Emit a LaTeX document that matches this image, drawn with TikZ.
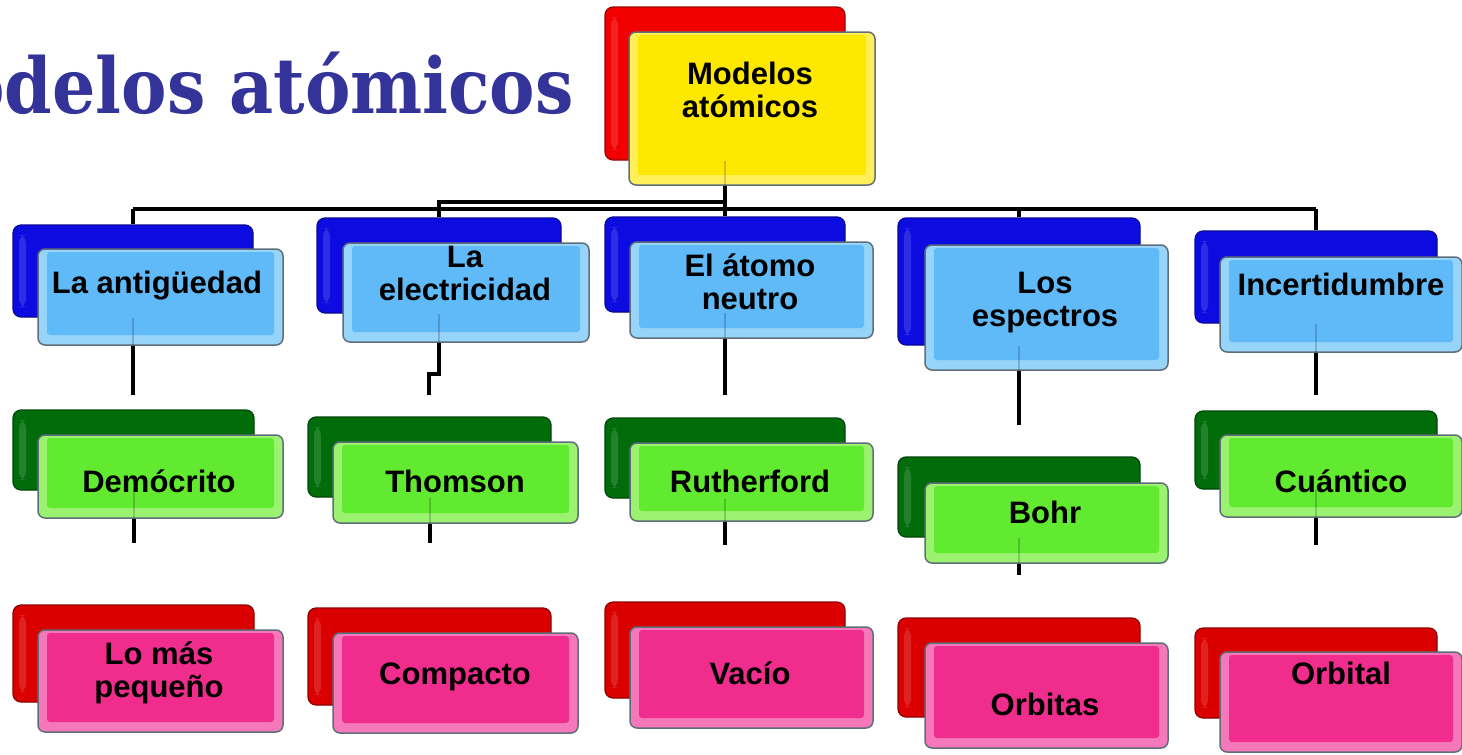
\documentclass[tikz,border=0pt]{standalone}
\usepackage{fontspec}
\newfontfamily\boxfont{Liberation Sans}
\newfontfamily\titlefont{DejaVu Serif}
\definecolor{titleblue}{RGB}{51,51,153}
\definecolor{bbase}{RGB}{96,186,248}
\definecolor{brim}{RGB}{150,212,250}
\definecolor{bback}{RGB}{12,12,225}
\definecolor{gbase}{RGB}{98,234,48}
\definecolor{grim}{RGB}{155,242,112}
\definecolor{gback}{RGB}{0,108,10}
\definecolor{pbase}{RGB}{240,45,140}
\definecolor{prim}{RGB}{245,120,186}
\definecolor{pback}{RGB}{218,0,0}
\definecolor{ybase}{RGB}{255,232,0}
\definecolor{yrim}{RGB}{255,240,90}
\definecolor{yback}{RGB}{242,0,0}
\definecolor{edge}{RGB}{95,110,120}
\tikzset{
  conn/.style={line width=4pt, black},
  faint/.style={line width=2pt, black, opacity=0.18},
  backbox/.style={rectangle, rounded corners=8pt, line width=1.2pt, inner sep=0pt},
  frontbox/.style={rectangle, rounded corners=7pt, draw=edge, line width=1.5pt, inner sep=0pt},
  lbl/.style={font=\boxfont\bfseries\fontsize{31}{33}\selectfont, align=center, inner sep=0pt, text=black},
}
% back box: name, colour, x1, y1, x2, y2
\newcommand\bk[6]{%
  \node[backbox, fill=#2, draw=#2!65!black, minimum width={#5-#3}, minimum height={#6-#4},
    path picture={\fill[#2!60!white, opacity=0.35] ([xshift=6pt,yshift=-10pt]path picture bounding box.north west) rectangle ([xshift=13pt,yshift=10pt]path picture bounding box.south west);}]
    (#1) at ({(#3+#5)/2},{(#4+#6)/2}) {};}
% front box: name, base, rim, x1, y1, x2, y2
\newcommand\fr[7]{%
  \node[frontbox, fill=#3, minimum width={#6-#4}, minimum height={#7-#5},
    path picture={\fill[#2, rounded corners=3pt] ([xshift=9pt,yshift=-3pt]path picture bounding box.north west) rectangle ([xshift=-9pt,yshift=10pt]path picture bounding box.south east);}]
    (#1) at ({(#4+#6)/2},{(#5+#7)/2}) {};}
\begin{document}
\begin{tikzpicture}[x=1pt, y=-1pt]
\useasboundingbox (0,0) rectangle (1462,755);
\clip (0,0) rectangle (1462,755);
\fill[white] (0,0) rectangle (1462,755);

% title (cut off at the left edge, as in the reference)
\node[anchor=base east, inner sep=0pt, text=titleblue, font=\titlefont\bfseries\fontsize{77}{80}\selectfont] (title) at (574,113) {\scalebox{0.885}[1]{Modelos atómicos}};

% back boxes
\bk{rb}{yback}{605}{7}{845}{160}
\bk{a1}{bback}{13}{225}{253}{317}
\bk{a2}{bback}{317}{218}{561}{313}
\bk{a3}{bback}{605}{217}{845}{312}
\bk{a4}{bback}{898}{218}{1140}{345}
\bk{a5}{bback}{1195}{231}{1437}{323}
\bk{b1}{gback}{13}{410}{254}{490}
\bk{b2}{gback}{308}{417}{551}{497}
\bk{b3}{gback}{605}{418}{845}{498}
\bk{b4}{gback}{898}{457}{1140}{537}
\bk{b5}{gback}{1195}{411}{1437}{489}
\bk{c1}{pback}{13}{605}{254}{702}
\bk{c2}{pback}{308}{608}{551}{705}
\bk{c3}{pback}{605}{602}{845}{698}
\bk{c4}{pback}{898}{618}{1140}{717}
\bk{c5}{pback}{1195}{628}{1437}{718}

% connectors
\coordinate (bus) at (0,209);
\coordinate (bus2) at (0,202);
\draw[conn] (rb.south) -- (rb.south |- bus);
\draw[conn] (a1.north |- bus) -- (a5.north |- bus);
\draw[conn] (rb.south |- bus2) -| (a2.north);
\foreach \n in {a1,a3,a4,a5} \draw[conn] (\n.north |- bus) -- (\n.north);
\coordinate (e1) at (a1.south |- 0,395);
\coordinate (j2) at (429,374);
\coordinate (e2) at (429,395);
\coordinate (e3) at (a3.south |- 0,395);
\coordinate (e4) at (a4.south |- 0,425);
\coordinate (e5) at (a5.south |- 0,395);
\draw[conn] (a1.south) -- (e1);
\draw[conn, line join=miter] (a2.south) |- (j2) -- (e2);
\draw[conn] (a3.south) -- (e3);
\draw[conn] (a4.south) -- (e4);
\draw[conn] (a5.south) -- (e5);
\coordinate (f1) at (b1.south |- 0,543);
\coordinate (f2) at (b2.south |- 0,543);
\coordinate (f3) at (b3.south |- 0,545);
\coordinate (f4) at (b4.south |- 0,575);
\coordinate (f5) at (b5.south |- 0,545);
\foreach \n/\e in {b1/f1,b2/f2,b3/f3,b4/f4,b5/f5} \draw[conn] (\n.south) -- (\e);

% front boxes
\fr{rf}{ybase}{yrim}{629}{32}{875}{185}
\fr{A1}{bbase}{brim}{38}{249}{283}{345}
\fr{A2}{bbase}{brim}{343}{243}{589}{342}
\fr{A3}{bbase}{brim}{630}{242}{873}{338}
\fr{A4}{bbase}{brim}{925}{245}{1168}{370}
\fr{A5}{bbase}{brim}{1220}{257}{1462}{352}
\fr{B1}{gbase}{grim}{38}{435}{283}{518}
\fr{B2}{gbase}{grim}{333}{442}{578}{523}
\fr{B3}{gbase}{grim}{630}{443}{873}{521}
\fr{B4}{gbase}{grim}{925}{483}{1168}{563}
\fr{B5}{gbase}{grim}{1220}{435}{1462}{517}
\fr{C1}{pbase}{prim}{38}{630}{283}{732}
\fr{C2}{pbase}{prim}{333}{633}{578}{733}
\fr{C3}{pbase}{prim}{630}{627}{873}{728}
\fr{C4}{pbase}{prim}{925}{643}{1168}{748}
\fr{C5}{pbase}{prim}{1220}{652}{1462}{752}

% faint connector traces seen through the front boxes
\draw[faint] (rb.south) -- (rb.south |- rf.south);
\foreach \n/\m in {a1/A1,a2/A2,a3/A3,a4/A4,a5/A5,b1/B1,b2/B2,b3/B3,b4/B4,b5/B5}
  \draw[faint] (\n.south) -- (\n.south |- \m.south);

% labels (anchor base = baseline of the last line)
\node[lbl, anchor=base] (trf) at (750,117) {Modelos\\atómicos};
\node[lbl, anchor=base] (tA1) at (157,293) {La antigüedad};
\node[lbl, anchor=base] (tA2) at (465,300) {La\\electricidad};
\node[lbl, anchor=base] (tA3) at (750,309) {El átomo\\neutro};
\node[lbl, anchor=base] (tA4) at (1045,326) {Los\\espectros};
\node[lbl, anchor=base] (tA5) at (1341,295) {Incertidumbre};
\node[lbl, anchor=base] (tB1) at (159,492) {Demócrito};
\node[lbl, anchor=base] (tB2) at (455,492) {Thomson};
\node[lbl, anchor=base] (tB3) at (750,492) {Rutherford};
\node[lbl, anchor=base] (tB4) at (1045,523) {Bohr};
\node[lbl, anchor=base] (tB5) at (1341,492) {Cuántico};
\node[lbl, anchor=base] (tC1) at (159,697) {Lo más\\pequeño};
\node[lbl, anchor=base] (tC2) at (455,684) {Compacto};
\node[lbl, anchor=base] (tC3) at (750,684) {Vacío};
\node[lbl, anchor=base] (tC4) at (1045,715) {Orbitas};
\node[lbl, anchor=base] (tC5) at (1341,684) {Orbital};
\end{tikzpicture}
\end{document}
